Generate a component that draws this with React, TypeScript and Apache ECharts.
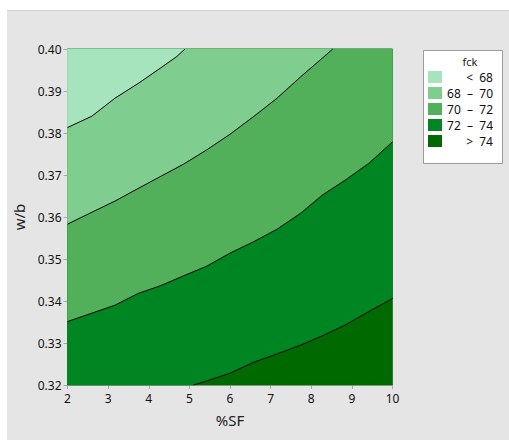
import React, { useEffect, useRef } from "react";
import * as echarts from "echarts";

const levels = [68, 70, 72, 74];
const bandColors = ["#a6e4bd", "#7fcd8f", "#52af5a", "#008523", "#006a00"];

const contour68: [number, number][] = [
  [2.0, 0.3813], [2.6, 0.384], [3.17, 0.3883], [3.74, 0.3918], [4.28, 0.3954], [4.69, 0.3982], [4.89, 0.4],
];
const contour70: [number, number][] = [
  [2.0, 0.3583], [2.51, 0.3607], [3.17, 0.3638], [3.74, 0.3668], [4.28, 0.3696], [4.86, 0.3726], [5.43, 0.376],
  [6.0, 0.3797], [6.58, 0.3839], [7.16, 0.3883], [7.74, 0.3934], [8.27, 0.3978], [8.53, 0.4],
];
const contour72: [number, number][] = [
  [2.0, 0.3351], [2.6, 0.3371], [3.17, 0.339], [3.74, 0.3418], [4.28, 0.3436], [4.86, 0.346], [5.43, 0.3483],
  [6.0, 0.3514], [6.58, 0.3541], [7.16, 0.3571], [7.74, 0.3609], [8.27, 0.3652], [8.84, 0.3688], [9.42, 0.3728],
  [10.0, 0.3779],
];
const contour74: [number, number][] = [
  [5.1, 0.32], [5.44, 0.321], [6.0, 0.3228], [6.58, 0.3254], [7.16, 0.3274], [7.74, 0.3295], [8.27, 0.3317],
  [8.84, 0.3343], [9.42, 0.3375], [10.0, 0.3406],
];

const xMin = 2, xMax = 10, yMin = 0.32, yMax = 0.4;

export default function App() {
  const ref = useRef<HTMLDivElement>(null);
  useEffect(() => {
    if (!ref.current) return;
    const chart = echarts.init(ref.current, undefined, { renderer: "svg" });
    const TL: [number, number] = [xMin, yMax];
    const TR: [number, number] = [xMax, yMax];
    const BL: [number, number] = [xMin, yMin];
    const BR: [number, number] = [xMax, yMin];
    const regions = [
      { pts: [BL, BR, TR, TL], color: bandColors[4] },
      { pts: [...contour74, TR, TL, BL], color: bandColors[3] },
      { pts: [...contour72, TR, TL], color: bandColors[2] },
      { pts: [...contour70, TL], color: bandColors[1] },
      { pts: [...contour68, TL], color: bandColors[0] },
    ];
    const legendLabels = [
      `<  ${levels[0]}`,
      `${levels[0]}  –  ${levels[1]}`,
      `${levels[1]}  –  ${levels[2]}`,
      `${levels[2]}  –  ${levels[3]}`,
      `>  ${levels[3]}`,
    ];
    const rowY = [77, 93, 109, 125, 141];
    const font = "'Noto Sans', 'DejaVu Sans', sans-serif";
    const legendGraphics: any[] = [
      {
        type: "rect",
        shape: { x: 423.5, y: 50.5, width: 79, height: 113 },
        style: { fill: "#ffffff", stroke: "#9a9a9a", lineWidth: 1 },
      },
      {
        type: "text",
        x: 470,
        y: 61,
        style: { text: "fck", fill: "#222", font: `11px ${font}`, align: "center", verticalAlign: "middle", lineHeight: 11 },
      },
    ];
    legendLabels.forEach((lab, i) => {
      legendGraphics.push({
        type: "rect",
        shape: { x: 428, y: rowY[i] - 6, width: 14, height: 12 },
        style: { fill: bandColors[i] },
      });
      legendGraphics.push({
        type: "text",
        x: 493,
        y: rowY[i],
        style: { text: lab, fill: "#111", font: `12px ${font}`, align: "right", verticalAlign: "middle", lineHeight: 12 },
      });
    });

    const contourSeries = [contour68, contour70, contour72, contour74].map((c) => ({
      type: "line",
      data: c,
      symbol: "none",
      silent: true,
      z: 5,
      lineStyle: { color: "#000", width: 1 },
    }));

    chart.setOption({
      animation: false,
      textStyle: { fontFamily: font },
      grid: {
        left: 67.5,
        top: 49,
        width: 325,
        height: 336,
        show: true,
        borderColor: "#b8b8b8",
        borderWidth: 1,
        backgroundColor: "transparent",
      },
      xAxis: {
        type: "value",
        min: xMin,
        max: xMax,
        interval: 1,
        name: "%SF",
        nameLocation: "middle",
        nameGap: 27,
        nameTextStyle: { fontSize: 15, color: "#222", fontFamily: font },
        axisLine: { lineStyle: { color: "#a8a8a8" } },
        axisTick: { length: 4, lineStyle: { color: "#a8a8a8" } },
        axisLabel: { fontSize: 12, color: "#111", margin: 7, fontFamily: font },
        splitLine: { show: false },
      },
      yAxis: {
        type: "value",
        min: yMin,
        max: yMax,
        interval: 0.01,
        name: "w/b",
        nameLocation: "middle",
        nameGap: 34,
        nameTextStyle: { fontSize: 15, color: "#222", fontFamily: font },
        axisLine: { show: true, lineStyle: { color: "#a8a8a8" } },
        axisTick: { show: true, length: 4, lineStyle: { color: "#a8a8a8" } },
        axisLabel: { fontSize: 12, color: "#111", margin: 6, fontFamily: font, formatter: (v: number) => v.toFixed(2) },
        splitLine: { show: false },
      },
      graphic: legendGraphics,
      series: [
        {
          type: "custom",
          coordinateSystem: "cartesian2d",
          silent: true,
          z: 1,
          data: regions.map(() => [xMin, yMin]),
          encode: { x: 0, y: 1 },
          renderItem: (params: any, api: any) => {
            const r = regions[params.dataIndex];
            return {
              type: "polygon",
              shape: { points: r.pts.map((p) => api.coord(p)) },
              style: { fill: r.color, stroke: r.color, lineWidth: 0.5 },
            };
          },
        },
        ...contourSeries,
      ],
    });
    return () => chart.dispose();
  }, []);

  return (
    <div style={{ position: "absolute", left: 0, top: 0, width: 509, height: 441, background: "#fff" }}>
      <div
        style={{
          position: "absolute",
          left: 7,
          top: 10,
          width: 502,
          height: 430,
          background: "#e5e5e5",
          borderTop: "1px solid #cfcfcf",
          boxSizing: "border-box",
        }}
      />
      <div ref={ref} style={{ position: "absolute", left: 0, top: 0, width: 509, height: 441 }} />
    </div>
  );
}
